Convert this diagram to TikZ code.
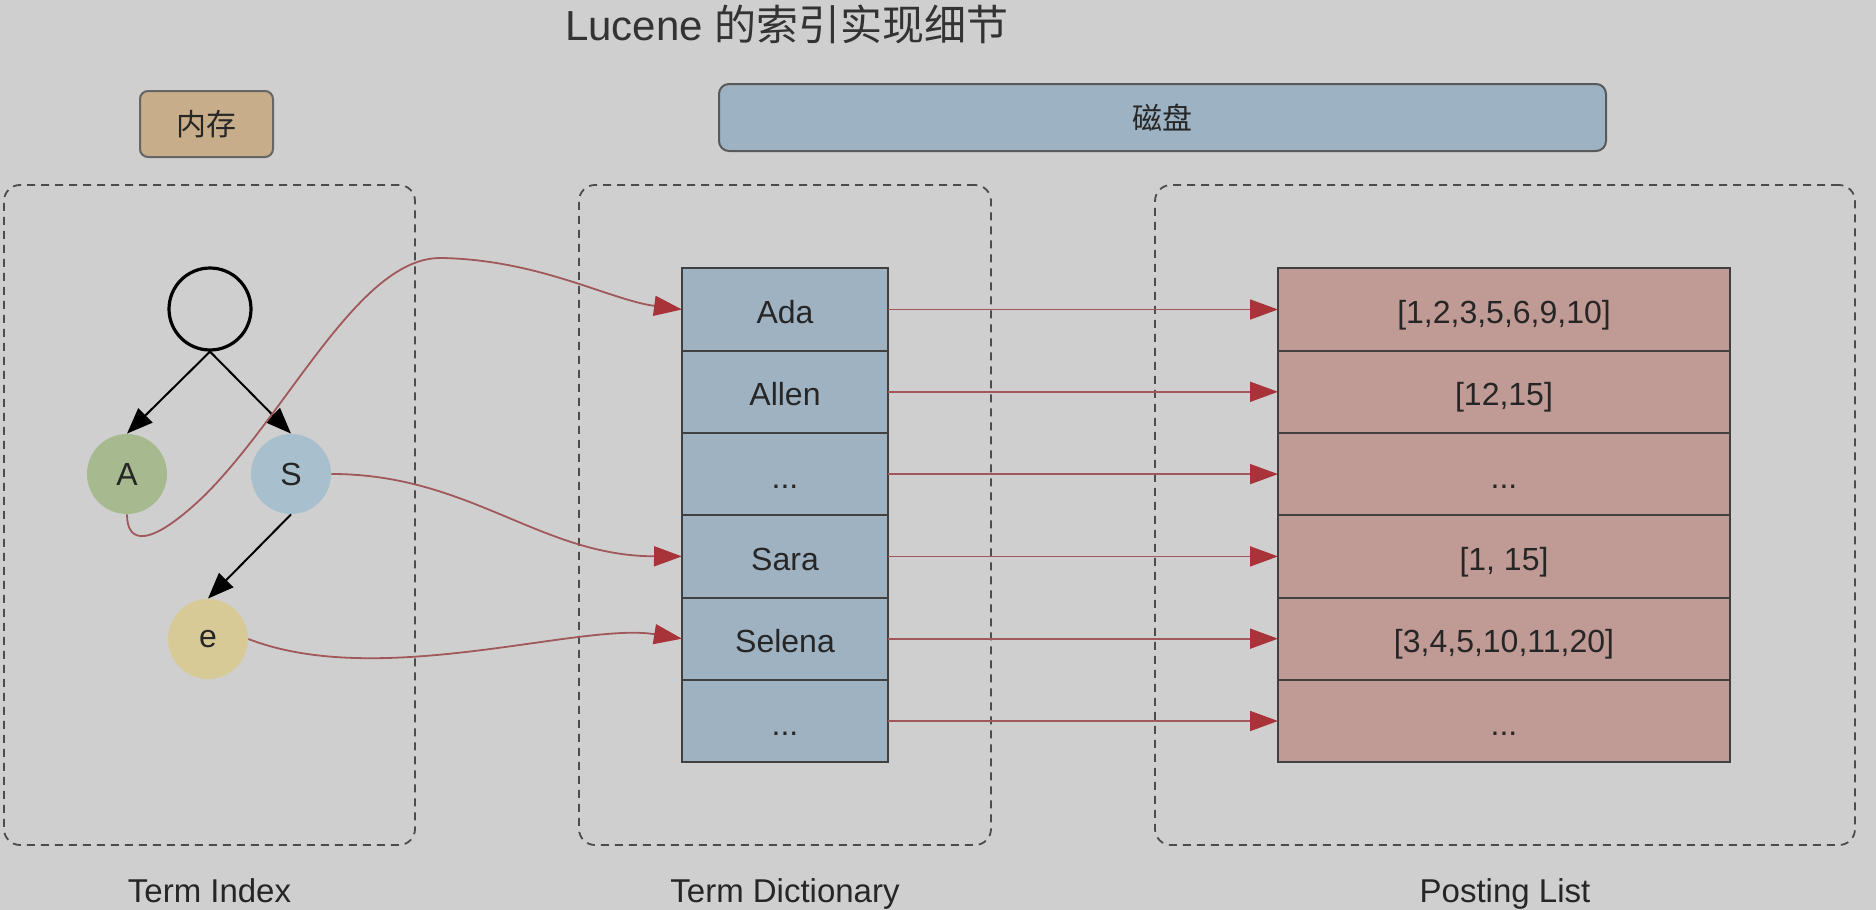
\documentclass[tikz,border=0pt]{standalone}
\usepackage{fontspec}
\setmainfont{Liberation Sans}
\newfontfamily\cjk{Noto Sans CJK SC}
\usepackage{xcolor}
\usetikzlibrary{arrows.meta,positioning}

\definecolor{bggray}{HTML}{CFCFCF}
\definecolor{dictblue}{HTML}{9FB2C2}
\definecolor{postred}{HTML}{C09A94}
\definecolor{memtan}{HTML}{C8AD8A}
\definecolor{diskblue}{HTML}{9DB3C4}
\definecolor{linkred}{HTML}{A0585A}
\definecolor{tipred}{HTML}{A8343A}
\definecolor{nodegreen}{HTML}{A7B98F}
\definecolor{nodeblue}{HTML}{A8BFCE}
\definecolor{nodeyellow}{HTML}{D7CA97}

\begin{document}
\begin{tikzpicture}[
    x=0.5pt, y=-0.5pt,
    >=Latex,
    every node/.style={font=\fontsize{16}{19}\selectfont, text=black!85},
    panel/.style={draw=black!70, dash pattern=on 4pt off 3pt, line width=0.9pt,
        rounded corners=8pt, minimum height=330pt, minimum width=#1},
    dictcell/.style={draw=black!75, line width=1pt, fill=dictblue, outer sep=0pt,
        minimum width=103pt, minimum height=41.15pt, text height=14pt, text depth=0pt},
    postcell/.style={dictcell, fill=postred, minimum width=226pt},
    letter/.style={circle, minimum size=40pt, inner sep=0pt, fill=#1},
    lbl/.style={font=\fontsize{16.5}{19}\selectfont, inner sep=0pt, text height=12pt, text depth=3.5pt},
    link/.style={draw=linkred, line width=0.9pt, -{Triangle[length=14pt,width=10pt,color=tipred]}},
    treeedge/.style={draw=black, line width=1pt, -{Triangle[length=13pt,width=10pt]}}
]
\useasboundingbox (0,0) rectangle (1876,910);
\fill[bggray] (0,0) rectangle (1876,910);

% Title and storage tags
\node[font=\fontsize{21}{25}\selectfont, text=black!80] (title) at (787,24) {Lucene {\cjk 的索引实现细节}};

\node[draw=black!60, line width=1pt, fill=memtan, rounded corners=4pt,
minimum width=66.5pt, minimum height=33pt, font=\cjk\fontsize{15}{18}\selectfont] (mem) at (206.5,124) {内存};

\node[draw=black!65, line width=1pt, fill=diskblue, rounded corners=5pt,
minimum width=443.5pt, minimum height=33.5pt, font=\cjk\fontsize{15}{18}\selectfont] (disk) at (1162.5,117.5) {磁盘};

% Dashed panels
\node[panel=205.5pt] (ti) at (209.5,515) {};
\node[panel=206pt] (td) at (785,515) {};
\node[panel=350pt] (pl) at (1505,515) {};

\node[lbl, below=16pt of ti] (tilbl) {Term Index};
\node[lbl, below=16pt of td] (tdlbl) {Term Dictionary};
\node[lbl, below=16pt of pl] (pllbl) {Posting List};

% Term index tree
\node[circle, draw=black, line width=1.6pt, minimum size=41pt] (root) at (210,309) {};
\node[letter=nodegreen] (A) at (127,474) {A};
\node[letter=nodeblue] (S) at (291,474) {S};
\node[letter=nodeyellow] (e) at (208,639) {e};

\draw[treeedge] (root.south) -- (A.north);
\draw[treeedge] (root.south) -- (S.north);
\draw[treeedge] (S.south) -- (e.north);

% Term dictionary
\node[dictcell] (ada) at (785,309.5) {Ada};
\node[dictcell, below=0pt of ada] (allen) {Allen};
\node[dictcell, below=0pt of allen] (dictmore) {...};
\node[dictcell, below=0pt of dictmore] (sara) {Sara};
\node[dictcell, below=0pt of sara] (selena) {Selena};
\node[dictcell, below=0pt of selena] (dictend) {...};

% Posting list
\node[postcell, right=195pt of ada] (p1) {[1,2,3,5,6,9,10]};
\node[postcell, below=0pt of p1] (p2) {[12,15]};
\node[postcell, below=0pt of p2] (p3) {...};
\node[postcell, below=0pt of p3] (p4) {[1, 15]};
\node[postcell, below=0pt of p4] (p5) {[3,4,5,10,11,20]};
\node[postcell, below=0pt of p5] (p6) {...};

% arrows
\draw[link] (ada) -- (p1);
\draw[link] (allen) -- (p2);
\draw[link] (dictmore) -- (p3);
\draw[link] (sara) -- (p4);
\draw[link] (selena) -- (p5);
\draw[link] (dictend) -- (p6);

% index to dictionary
\draw[link] (A.south) .. controls +(0,30) and (150,548) .. (205,495)
    .. controls (290,410) and (360,256) .. (442,258)
    .. controls (540,260) and (610,300) .. (ada.west);
\draw[link] (S.east) .. controls (470,474) and (540,556) .. (sara.west);
\draw[link] (e.east) .. controls (380,690) and (580,622) .. (selena.west);

\end{tikzpicture}
\end{document}
